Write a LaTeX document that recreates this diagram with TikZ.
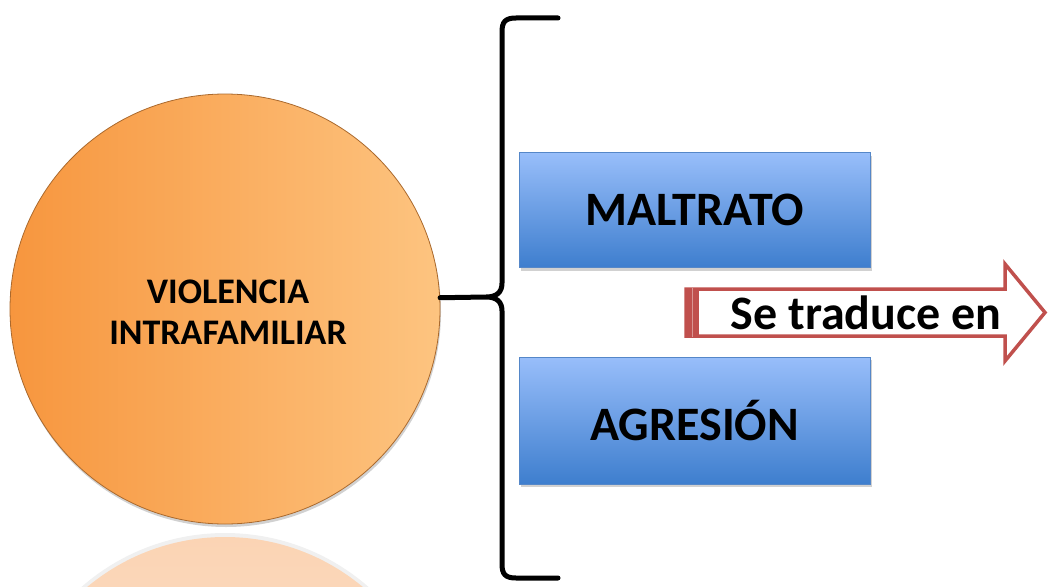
\documentclass[tikz,border=0pt]{standalone}
\usepackage{fontspec}
\setmainfont{Carlito}
\usetikzlibrary{shadows,fadings}
\definecolor{orL}{RGB}{247,150,62}
\definecolor{orR}{RGB}{253,196,128}
\definecolor{orB}{RGB}{170,105,45}
\definecolor{rfL}{RGB}{251,212,180}
\definecolor{blT}{RGB}{152,190,250}
\definecolor{blB}{RGB}{62,126,206}
\definecolor{blE}{RGB}{85,135,200}
\definecolor{arR}{RGB}{192,80,77}
\tikzset{
  circ/.style={circle,minimum size=430pt,inner sep=0pt,left color=orL,right color=orR,draw=orB,line width=0.8pt,
    drop shadow={shadow xshift=1pt,shadow yshift=-3pt,opacity=0.18,fill=black}},
  bbox/.style={rectangle,minimum width=351pt,inner sep=0pt,top color=blT,bottom color=blB,draw=blE,line width=0.8pt,
    drop shadow={shadow xshift=2pt,shadow yshift=-3pt,opacity=0.18,fill=black},font=\bfseries\fontsize{48}{52}\selectfont},
  ctext/.style={font=\bfseries\fontsize{36}{41}\selectfont,align=center,text=black},
  brace/.style={line width=5pt,line cap=round,line join=round,draw=black}
}
\begin{document}
\begin{tikzpicture}[x=1pt,y=-1pt]
\useasboundingbox (0,0) rectangle (1048,586);
% reflection
\begin{scope}
\clip (0,0) rectangle (1048,586);
\fill[black,opacity=0.06] (225,751) circle (218);
\shade[top color=rfL,bottom color=white,middle color=rfL!75!white] (225,752) circle (215);
\end{scope}
% circle
\node[circ] (vi) at (225,309) {};
\node[ctext] (vit) at (228,312) {VIOLENCIA\\INTRAFAMILIAR};
% boxes
\node[bbox,minimum height=115pt] (m) at (694.5,210) {MALTRATO};
\node[bbox,minimum height=127pt] (a) at (694.5,420.5) {AGRESIÓN};
% brace
\coordinate (bt) at (558,18);
\coordinate (bb) at (558,578);
\draw[brace] (bt) -- (516,18) .. controls (505,18) and (502,22) .. (502,32)
  -- (502,283) .. controls (502,292) and (497,297) .. (486,297) -- (vi.3.3)
  (486,297) .. controls (497,297) and (502,302) .. (502,311)
  -- (502,564) .. controls (502,574) and (505,578) .. (516,578) -- (bb);
% arrow
\draw[arR,line width=3.5pt,fill=white,line join=miter]
  (686,289) -- (1005,289) -- (1005,264) -- (1045,312.5) -- (1005,361) -- (1005,336) -- (686,336) -- cycle;
\fill[arR] (685,287.5) rectangle (699,337.5);
\draw[arR!60!white,line width=0.6pt] (692,288) -- (692,337);
\node[font=\bfseries\fontsize{48}{52}\selectfont] (st) at (866,313) {Se traduce en};
\end{tikzpicture}
\end{document}
